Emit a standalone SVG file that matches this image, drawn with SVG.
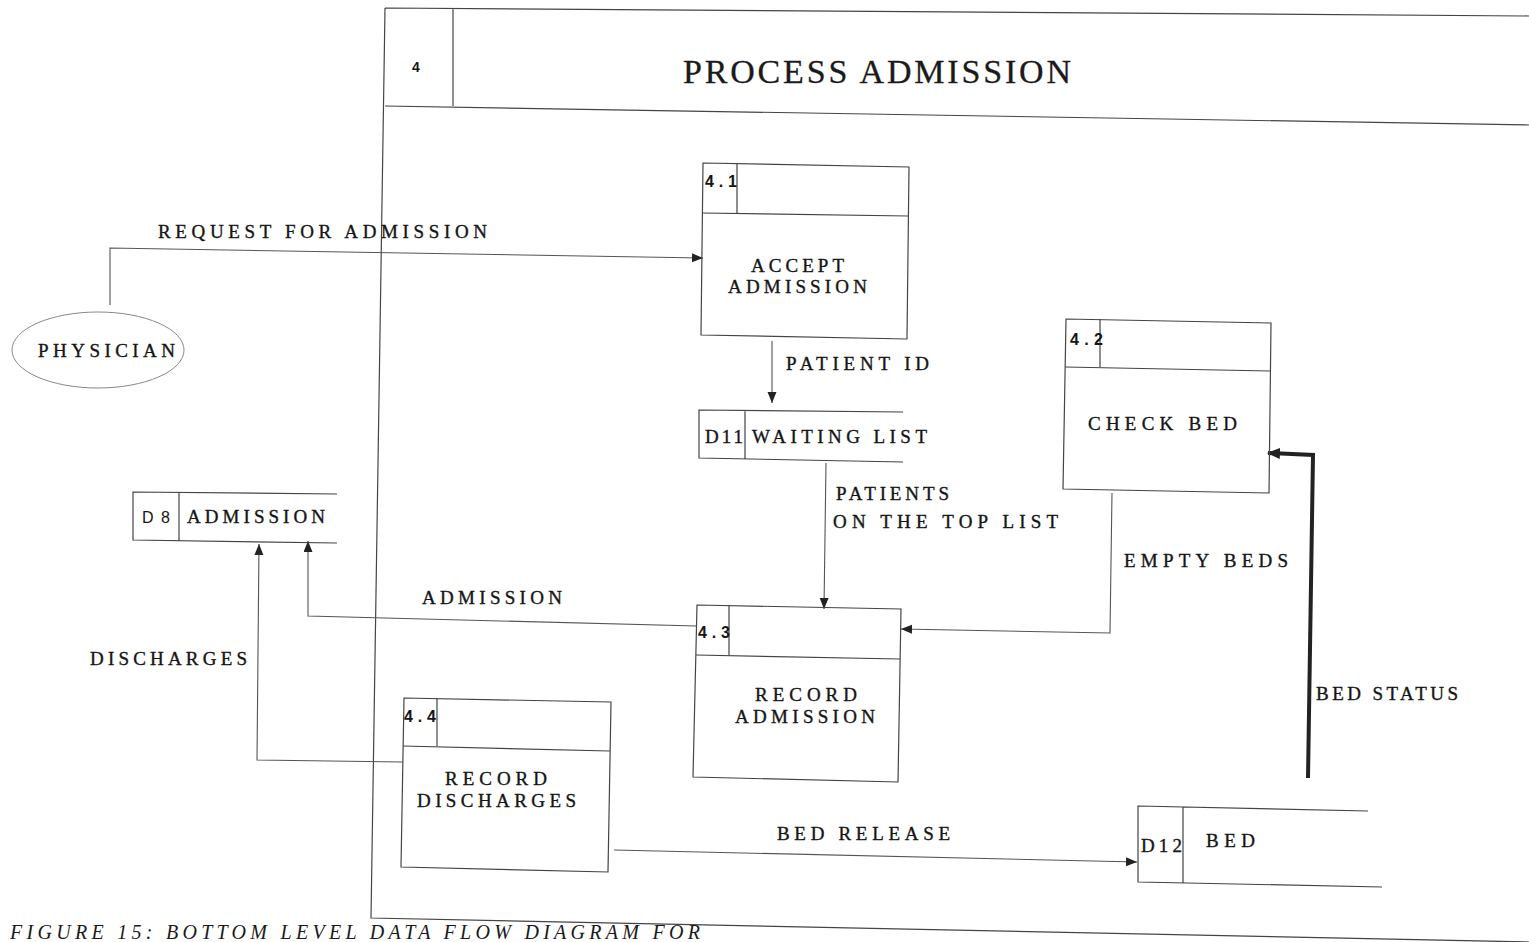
<svg xmlns="http://www.w3.org/2000/svg" width="1529" height="942" viewBox="0 0 1529 942">
<defs>
<style>
.bg{fill:#ffffff}
.frame{fill:none;stroke:#444;stroke-width:1.2}
.box{fill:none;stroke:#444;stroke-width:1.2}
.flow{fill:none;stroke:#555;stroke-width:1.1}
.thick{fill:none;stroke:#222;stroke-width:4}
.lbl{font-family:"Liberation Serif","Times New Roman",serif;font-size:19px;fill:#151515;stroke:#151515;stroke-width:0.35}
.num{font-family:"Liberation Sans",Arial,sans-serif;font-size:16px;fill:#151515;font-weight:bold}
.title{font-family:"Liberation Serif","Times New Roman",serif;font-size:34px;fill:#1a1a1a;stroke:#1a1a1a;stroke-width:0.3}
.cap{font-family:"Liberation Serif","Times New Roman",serif;font-size:20px;font-style:italic;fill:#1a1a1a}
</style>
<marker id="arr" markerUnits="userSpaceOnUse" markerWidth="12" markerHeight="10" refX="11" refY="4.5" orient="auto">
<path d="M0,0 L11,4.5 L0,9 z" fill="#222"/>
</marker>
<marker id="arrB" markerUnits="userSpaceOnUse" markerWidth="14" markerHeight="12" refX="12" refY="5.5" orient="auto">
<path d="M0,0 L13,5.5 L0,11 z" fill="#222"/>
</marker>
</defs>
<rect class="bg" x="0" y="0" width="1529" height="942"/>

<g id="process4">
<path class="frame" d="M385,8 L1529,16 M385,8 L371,918 L1529,942 M385,106 L1529,125 M453,8 L453,106"/>
<text class="num" x="412" y="72" style="font-size:14px">4</text>
<text class="title" x="683" y="83" textLength="388" lengthAdjust="spacing">PROCESS ADMISSION</text>
</g>

<g id="connectors">
<path class="flow" d="M110,305 L110,248 L703,258" marker-end="url(#arr)"/>
<path class="flow" d="M772,341 L772,403" marker-end="url(#arr)"/>
<path class="flow" d="M826,463 L824,609" marker-end="url(#arr)"/>
<path class="flow" d="M1112,493 L1110,633 L901,629" marker-end="url(#arr)"/>
<path class="thick" d="M1308,778 L1313,455 L1268,453" marker-end="url(#arrB)"/>
<path class="flow" d="M697,626 L308,616 L308,541" marker-end="url(#arr)"/>
<path class="flow" d="M403,762 L257,760 L259,544" marker-end="url(#arr)"/>
<path class="flow" d="M614,850 L1137,862" marker-end="url(#arr)"/>
<text class="lbl" x="158" y="238" textLength="329" lengthAdjust="spacing">REQUEST FOR ADMISSION</text>
<text class="lbl" x="786" y="370" textLength="143" lengthAdjust="spacing">PATIENT ID</text>
<text class="lbl" x="836" y="500" textLength="113" lengthAdjust="spacing">PATIENTS</text>
<text class="lbl" x="833" y="528" textLength="225" lengthAdjust="spacing">ON THE TOP LIST</text>
<text class="lbl" x="1124" y="567" textLength="164" lengthAdjust="spacing">EMPTY BEDS</text>
<text class="lbl" x="1316" y="700" textLength="142" lengthAdjust="spacing">BED STATUS</text>
<text class="lbl" x="422" y="604" textLength="140" lengthAdjust="spacing">ADMISSION</text>
<text class="lbl" x="90" y="665" textLength="157" lengthAdjust="spacing">DISCHARGES</text>
<text class="lbl" x="777" y="840" textLength="173" lengthAdjust="spacing">BED RELEASE</text>
</g>

<g id="physician">
<ellipse cx="98" cy="350" rx="86" ry="38" fill="none" stroke="#888" stroke-width="1"/>
<text class="lbl" x="38" y="357" textLength="137" lengthAdjust="spacing">PHYSICIAN</text>
</g>

<g id="p4_1">
<polygon class="box" points="703,163 909,167 907,339 701,335"/>
<path class="box" d="M702,213 L908,216 M737,163 L737,213"/>
<text class="num" x="705" y="187" textLength="32" lengthAdjust="spacing">4.1</text>
<text class="lbl" x="751" y="272" textLength="93" lengthAdjust="spacing">ACCEPT</text>
<text class="lbl" x="728" y="293" textLength="139" lengthAdjust="spacing">ADMISSION</text>
</g>

<g id="p4_2">
<polygon class="box" points="1066,319 1271,323 1269,493 1063,489"/>
<path class="box" d="M1065,367 L1270,371 M1100,319 L1100,367"/>
<text class="num" x="1070" y="345" textLength="33" lengthAdjust="spacing">4.2</text>
<text class="lbl" x="1088" y="430" textLength="149" lengthAdjust="spacing">CHECK BED</text>
</g>

<g id="p4_3">
<polygon class="box" points="697,605 901,609 898,782 693,777"/>
<path class="box" d="M696,655 L900,659 M729,605 L729,655"/>
<text class="num" x="698" y="638" textLength="32" lengthAdjust="spacing">4.3</text>
<text class="lbl" x="755" y="701" textLength="102" lengthAdjust="spacing">RECORD</text>
<text class="lbl" x="735" y="723" textLength="140" lengthAdjust="spacing">ADMISSION</text>
</g>

<g id="p4_4">
<polygon class="box" points="404,698 611,702 608,872 401,867"/>
<path class="box" d="M403,746 L610,751 M437,698 L437,746"/>
<text class="num" x="404" y="722" textLength="32" lengthAdjust="spacing">4.4</text>
<text class="lbl" x="445" y="785" textLength="102" lengthAdjust="spacing">RECORD</text>
<text class="lbl" x="417" y="807" textLength="159" lengthAdjust="spacing">DISCHARGES</text>
</g>

<g id="d8">
<path class="box" d="M337,494 L133,492 L133,540 L337,543 M179,492 L179,541"/>
<text class="num" x="142" y="523" style="font-weight:normal" textLength="28" lengthAdjust="spacing">D8</text>
<text class="lbl" x="187" y="523" textLength="138" lengthAdjust="spacing">ADMISSION</text>
</g>

<g id="d11">
<path class="box" d="M903,412 L699,410 L699,458 L903,462 M745,410 L745,459"/>
<text class="lbl" x="705" y="443" textLength="38" lengthAdjust="spacing">D11</text>
<text class="lbl" x="752" y="443" textLength="175" lengthAdjust="spacing">WAITING LIST</text>
</g>

<g id="d12">
<path class="box" d="M1368,811 L1138,806 L1138,882 L1382,887 M1183,807 L1183,883"/>
<text class="lbl" x="1141" y="852" textLength="41" lengthAdjust="spacing">D12</text>
<text class="lbl" x="1206" y="847" textLength="49" lengthAdjust="spacing">BED</text>
</g>

<text class="cap" x="10" y="939" textLength="690" lengthAdjust="spacing">FIGURE 15: BOTTOM LEVEL DATA FLOW DIAGRAM FOR</text>
</svg>
